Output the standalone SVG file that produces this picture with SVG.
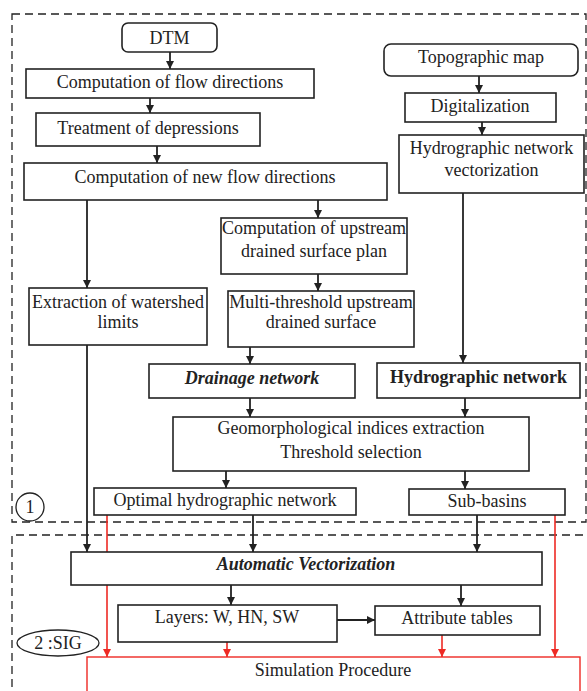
<svg xmlns="http://www.w3.org/2000/svg" width="587" height="691" viewBox="0 0 587 691">
<defs>
<marker id="ah" viewBox="0 0 10 10" refX="10" refY="5" markerWidth="8" markerHeight="8" markerUnits="userSpaceOnUse" orient="auto"><path d="M0,0 L10,5 L0,10 z" fill="#222"/></marker>
<marker id="ahr" viewBox="0 0 10 10" refX="10" refY="5" markerWidth="8" markerHeight="8" markerUnits="userSpaceOnUse" orient="auto"><path d="M0,0 L10,5 L0,10 z" fill="#ee2a24"/></marker>
</defs>
<style>
.b{fill:#fff;stroke:#222;stroke-width:1.6}
.t{font-family:"Liberation Serif","Times New Roman",serif;font-size:18px;fill:#222;text-anchor:middle}
.bi{font-weight:bold;font-style:italic}
.bd{font-weight:bold}
.c{stroke:#222;stroke-width:1.8;fill:none;marker-end:url(#ah)}
.r{stroke:#ee2a24;stroke-width:1.6;fill:none;marker-end:url(#ahr)}
.d{fill:none;stroke:#222;stroke-width:1.3;stroke-dasharray:8 5}
</style>
<rect width="587" height="691" fill="#fff"/>
<g id="zones">
<rect class="d" x="12" y="14" width="574" height="508"/>
<path class="d" d="M12,700 L12,535 L590,535"/>
</g>
<g id="connectors">
<line class="c" x1="170" y1="52" x2="170" y2="69"/>
<line class="c" x1="150" y1="98" x2="150" y2="113"/>
<line class="c" x1="157" y1="146" x2="157" y2="163"/>
<line class="c" x1="318" y1="200" x2="318" y2="218"/>
<line class="c" x1="87" y1="200" x2="87" y2="288"/>
<line class="c" x1="318" y1="274" x2="318" y2="291"/>
<line class="c" x1="479" y1="76" x2="479" y2="93"/>
<line class="c" x1="482" y1="122" x2="482" y2="135"/>
<line class="c" x1="463" y1="193" x2="463" y2="363"/>
<line class="c" x1="250" y1="347" x2="250" y2="364"/>
<line class="c" x1="250" y1="398" x2="250" y2="417"/>
<line class="c" x1="465" y1="398" x2="465" y2="417"/>
<line class="c" x1="226" y1="471" x2="226" y2="488"/>
<line class="c" x1="465" y1="471" x2="465" y2="489"/>
<line class="c" x1="87" y1="345" x2="87" y2="552"/>
<line class="c" x1="253" y1="515" x2="253" y2="552"/>
<line class="c" x1="477" y1="515" x2="477" y2="552"/>
<line class="c" x1="231" y1="585" x2="231" y2="605"/>
<line class="c" x1="461" y1="585" x2="461" y2="606"/>
<line class="c" x1="335" y1="620" x2="375" y2="620"/>
<line class="r" x1="107" y1="515" x2="107" y2="657"/>
<line class="r" x1="555" y1="515" x2="555" y2="657"/>
<line class="r" x1="227" y1="639" x2="227" y2="657"/>
<line class="r" x1="442" y1="635" x2="442" y2="657"/>
</g>
<g id="dtm"><rect class="b" x="122" y="23" width="95" height="29" rx="6"/><text class="t" x="169.5" y="44">DTM</text></g>
<g id="flowdir"><rect class="b" x="26" y="69" width="288" height="29"/><text class="t" x="170" y="88">Computation of flow directions</text></g>
<g id="depressions"><rect class="b" x="36" y="113" width="224" height="33"/><text class="t" x="148" y="134">Treatment of depressions</text></g>
<g id="newflow"><rect class="b" x="24" y="163" width="363" height="37"/><text class="t" x="205" y="183">Computation of new flow directions</text></g>
<g id="upstream"><rect class="b" x="221" y="218" width="186" height="56"/><text class="t" x="314" y="234">Computation of upstream</text><text class="t" x="314" y="257">drained surface plan</text></g>
<g id="watershed"><rect class="b" x="29" y="288" width="178" height="57"/><text class="t" x="118" y="308">Extraction of watershed</text><text class="t" x="118" y="328">limits</text></g>
<g id="multithreshold"><rect class="b" x="228" y="291" width="186" height="56"/><text class="t" x="321" y="308">Multi-threshold upstream</text><text class="t" x="321" y="328">drained surface</text></g>
<g id="topomap"><rect class="b" x="384" y="44" width="194" height="32" rx="7"/><text class="t" x="481" y="63">Topographic map</text></g>
<g id="digitalization"><rect class="b" x="405" y="93" width="151" height="29"/><text class="t" x="480" y="112">Digitalization</text></g>
<g id="hydrovect"><rect class="b" x="399" y="135" width="185" height="58"/><text class="t" x="491.5" y="154">Hydrographic network</text><text class="t" x="491.5" y="176">vectorization</text></g>
<g id="drainage"><rect class="b" x="149" y="364" width="206" height="34"/><text class="t bi" x="252" y="384">Drainage network</text></g>
<g id="hydronet"><rect class="b" x="377" y="363" width="203" height="35"/><text class="t bd" x="478.5" y="383">Hydrographic network</text></g>
<g id="geomorph"><rect class="b" x="173" y="417" width="356" height="54"/><text class="t" x="351" y="434">Geomorphological indices extraction</text><text class="t" x="351" y="458">Threshold selection</text></g>
<g id="optimal"><rect class="b" x="94" y="488" width="262" height="27"/><text class="t" x="225" y="506">Optimal hydrographic network</text></g>
<g id="subbasins"><rect class="b" x="409" y="489" width="156" height="26"/><text class="t" x="487" y="507">Sub-basins</text></g>
<g id="label1"><circle cx="30" cy="507" r="14" fill="#fff" stroke="#222" stroke-width="1.3"/><text class="t" x="30" y="513">1</text></g>
<g id="autovect"><rect class="b" x="71" y="552" width="471" height="33"/><text class="t bi" x="306" y="570">Automatic Vectorization</text></g>
<g id="layers"><rect class="b" x="118" y="605" width="219" height="37"/><text class="t" x="227" y="623">Layers: W, HN, SW</text></g>
<g id="attributes"><rect class="b" x="375" y="606" width="165" height="29"/><text class="t" x="457" y="624">Attribute tables</text></g>
<g id="simulation"><rect x="87" y="657" width="493" height="60" fill="#fff" stroke="#ee2a24" stroke-width="1.4"/><text class="t" x="333" y="676">Simulation Procedure</text></g>
<g id="label2"><ellipse cx="58" cy="643" rx="41" ry="13" fill="#fff" stroke="#222" stroke-width="1.3"/><text class="t" x="58" y="649">2 :SIG</text></g>
</svg>
